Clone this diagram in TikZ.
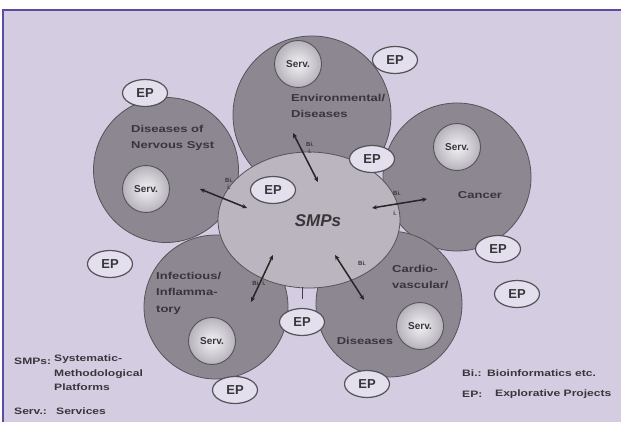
\documentclass[tikz,border=0pt]{standalone}
\usepackage{fontspec}
\setmainfont{Liberation Sans}
\newfontfamily\lbl[FakeStretch=1.3]{Liberation Sans}
\usetikzlibrary{arrows.meta,shapes.geometric}
\definecolor{bgc}{HTML}{D4CDE2}
\definecolor{framec}{HTML}{5B4BA6}
\definecolor{outerc}{HTML}{8C8791}
\definecolor{innerc}{HTML}{BAB5BE}
\definecolor{linec}{HTML}{56525A}
\definecolor{txtc}{HTML}{38363A}
\definecolor{epfill}{HTML}{E4DFEC}
\definecolor{servin}{HTML}{F2F0F4}
\definecolor{servmid}{HTML}{C8C4CC}
\definecolor{servout}{HTML}{8A858E}
\pgfdeclareradialshading{servsh}{\pgfpoint{0bp}{0bp}}{color(0bp)=(servin); color(18bp)=(servmid); color(42bp)=(servout); color(50bp)=(servout)}
\begin{document}
\begin{tikzpicture}[x=1pt,y=-1pt,
  bigc/.style={circle, fill=outerc, draw=linec, line width=0.8pt, minimum size=#1, inner sep=0pt},
  servc/.style={circle, shading=servsh, draw=linec, line width=0.9pt, minimum size=47pt, inner sep=0pt, text=txtc, font=\bfseries\fontsize{10}{12}\selectfont},
  epc/.style={ellipse, fill=epfill, draw=linec, line width=1.2pt, minimum width=45pt, minimum height=27pt, inner sep=0pt, text=txtc, font=\bfseries\fontsize{13}{14}\selectfont},
  ctext/.style={text=txtc, font=\lbl\bfseries\fontsize{10}{16.5}\selectfont, align=left, inner sep=0pt},
  legtext/.style={text=txtc, font=\lbl\bfseries\fontsize{9.3}{14.5}\selectfont, align=left, inner sep=0pt},
  tiny/.style={text=txtc, font=\bfseries\fontsize{6}{7}\selectfont, inner sep=0pt, align=center},
  arr/.style={{Stealth[length=5pt,width=4.5pt]}-{Stealth[length=5pt,width=4.5pt]}, line width=1.5pt, draw=black!85}
]
\useasboundingbox (0,0) rectangle (621,422);
\fill[white] (0,0) rectangle (621,422);
\fill[bgc] (3,10) rectangle (621,422);
\draw[framec, line width=1.3pt] (3,422) -- (3,10) -- (621,10);

% outer circles
\node[bigc=145pt] (cleft) at (166,170) {};
\node[bigc=158pt] (ctop) at (312,115) {};
\node[bigc=148pt] (ccan) at (457,177) {};
\node[bigc=144pt] (cll) at (216,307) {};
\node[bigc=146pt] (clr) at (389,304) {};
% central
\node[ellipse, fill=innerc, draw=linec, line width=0.8pt, minimum width=182pt, minimum height=136pt, inner sep=0pt] (smp) at (309,220) {};
\node[text=txtc, font=\bfseries\itshape\fontsize{17}{20}\selectfont, inner sep=0pt] (smptxt) at (318,221) {SMPs};

% services
\node[servc] (s1) at (298,64) {Serv.};
\node[servc] (s2) at (146,189) {Serv.};
\node[servc] (s3) at (457,147) {Serv.};
\node[servc] (s4) at (212,341) {Serv.};
\node[servc] (s5) at (420,326) {Serv.};

% explorative projects
\node[epc] (e1) at (395,60) {EP};
\node[epc] (e2) at (145,93) {EP};
\node[epc] (e3) at (372,159) {EP};
\node[epc] (e4) at (273,190) {EP};
\node[epc] (e5) at (498,249) {EP};
\node[epc] (e6) at (517,294) {EP};
\node[epc] (e7) at (110,264) {EP};
\node[epc] (e8) at (302,322) {EP};
\node[epc] (e9) at (235,390) {EP};
\node[epc] (e10) at (367,384) {EP};

% circle labels
\node[ctext, anchor=north west] (tenv) at (291,94) {Environmental/\\Diseases};
\node[ctext, anchor=north west] (tnerv) at (131,125) {Diseases of\\Nervous Syst};
\node[ctext] (tcan) at (480,195) {Cancer};
\node[ctext, anchor=north west] (tinf) at (156,272) {Infectious/\\Inflamma-\\tory};
\node[ctext, anchor=north west] (tcar) at (392,265) {Cardio-\\vascular/};
\node[ctext] (tdis) at (365,341) {Diseases};

% arrows
\coordinate (a1) at (293,133); \coordinate (b1) at (318,182);
\coordinate (a2) at (200,189); \coordinate (b2) at (247,208);
\coordinate (a3) at (427,199); \coordinate (b3) at (372,208);
\coordinate (a4) at (251,302); \coordinate (b4) at (273,255);
\coordinate (a5) at (364,300); \coordinate (b5) at (335,255);
\draw[arr] (a1) -- (b1);
\draw[arr] (a2) -- (b2);
\draw[arr] (a3) -- (b3);
\draw[arr] (a4) -- (b4);
\draw[arr] (a5) -- (b5);
\coordinate (t1) at (302,287); \coordinate (t2) at (302,299);
\draw[line width=0.8pt, draw=black!75] (t1) -- (t2);

% small arrow labels
\node[tiny] (l1) at (310,148) {Bi.\\i.};
\node[tiny] (l2) at (229,184) {Bi.\\i.};
\node[tiny] (l3a) at (397,193) {Bi.};
\node[tiny] (l3b) at (395,213) {i.};
\node[tiny] (l4) at (259,283) {Bi. i.};
\node[tiny] (l5) at (362,263) {Bi.};

% legends
\node[legtext, anchor=west] (g1) at (14,361) {SMPs:};
\node[legtext, anchor=north west] (g2) at (54,355) {Systematic-\\Methodological\\Platforms};
\node[legtext, anchor=west] (g3) at (14,411) {Serv.:};
\node[legtext, anchor=west] (g4) at (56,411) {Services};
\node[legtext, anchor=west] (g5) at (462,373) {Bi.:};
\node[legtext, anchor=west] (g6) at (487,373) {Bioinformatics etc.};
\node[legtext, anchor=west] (g7) at (462,394) {EP:};
\node[legtext, anchor=west] (g8) at (495,394) {Explorative Projects};
\end{tikzpicture}
\end{document}
